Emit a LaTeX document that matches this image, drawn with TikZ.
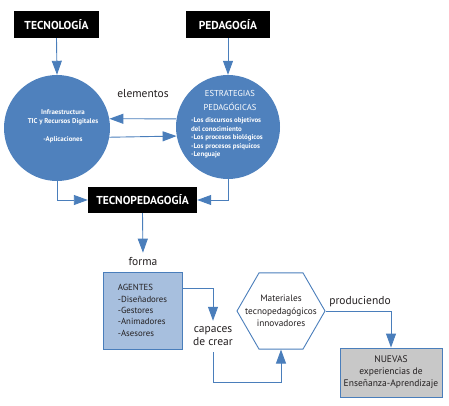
\documentclass[tikz,border=0pt]{standalone}
\usepackage{fontspec}
\setmainfont{PT Sans}
\usetikzlibrary{arrows.meta,shapes.geometric,calc}
\definecolor{cblue}{RGB}{79,129,189}
\definecolor{lblue}{RGB}{74,126,187}
\definecolor{agfill}{RGB}{167,191,222}
\definecolor{nvfill}{RGB}{200,200,200}
\definecolor{txt}{RGB}{35,31,32}
\begin{document}
\begin{tikzpicture}[x=1pt,y=-1pt,
  arr/.style={draw=lblue, line width=0.9pt, -{Triangle[width=10pt,length=14pt,fill=lblue]}},
  blk/.style={fill=black, text=white, font=\fontsize{11.5}{13}\selectfont\bfseries, minimum height=27pt, inner sep=0pt},
  bigc/.style={circle, fill=cblue, inner sep=0pt},
  ctext/.style={text=white, inner sep=0pt, font=\fontsize{6.9}{9}\selectfont\bfseries},
  lbl/.style={text=txt, inner sep=1pt, font=\fontsize{11.5}{13}\selectfont},
  box/.style={draw=lblue, line width=0.9pt, text=txt, inner sep=0pt}
]
\useasboundingbox (0,0) rectangle (449,406);

\node[blk, minimum width=85pt] (tec) at (56.5,24.5) {TECNOLOGÍA};
\node[blk, minimum width=84pt] (ped) at (228,24.5) {PEDAGOGÍA};

\node[bigc, minimum size=106pt] (c1) at (57,128) {};
\node[bigc, minimum size=104pt] (c2) at (228,127) {};

\node[ctext, align=center] (c1t) at (63,126) {Infraestructura\\TIC y Recursos Digitales\\[9pt]-Aplicaciones};
\node[text=white, inner sep=0pt, align=center, font=\fontsize{8.6}{14}\selectfont] (c2h) at (230,100) {ESTRATEGIAS\\PEDAGÓGICAS};
\node[ctext, align=left, anchor=west, font=\fontsize{6.9}{8.5}\selectfont\bfseries] (c2l) at (191,138) {-Los discursos objetivos\\del conocimiento\\-Los procesos biológicos\\-Los procesos psíquicos\\-Lenguaje};

\draw[arr] (tec.south) -- (c1.north);
\draw[arr] (ped.south) -- (c2.north);
\draw[arr] (c2.171) -- (c1.10);
\draw[arr] (c1.350) -- (c2.190);
\node[lbl] (elem) at (143,94) {elementos};

\node[blk, minimum width=109pt, minimum height=26pt] (tp) at (142.5,200) {TECNOPEDAGOGÍA};
\draw[arr] (c1.south) |- (tp.west);
\draw[arr] (c2.south) |- (tp.east);

\node[lbl] (forma) at (143,262) {forma};
\draw[arr, shorten >=4pt] (tp.south) -- (forma.north);

\node[box, fill=agfill, minimum width=79pt, minimum height=77pt, align=left, font=\fontsize{8.8}{11.3}\selectfont] (ag) at (142.5,310.5) {AGENTES\\-Diseñadores\\-Gestores\\-Animadores\\-Asesores};

\node[lbl, align=center, inner ysep=6pt] (cap) at (213,336.5) {capaces\\de crear};
\draw[arr] ([yshift=-17pt]ag.north east) -| (cap.north);

\node[box, fill=white, regular polygon, regular polygon sides=6, minimum size=88pt] (hex) at (281,311) {};
\node[text=txt, inner sep=0pt, align=center, font=\fontsize{9.3}{12.5}\selectfont] (hext) at (hex.center) {Materiales\\tecnopedagógicos\\innovadores};
\draw[arr] (cap.south) -- ++(0,30) -| (hex.south);

\node[box, fill=nvfill, minimum width=102pt, minimum height=49pt, align=center, font=\fontsize{9.5}{12}\selectfont] (nv) at (391,372.5) {NUEVAS\\experiencias de\\Enseñanza-Aprendizaje};
\draw[arr] (hex.east) -| (nv.north);
\node[lbl] (prod) at (360,302) {produciendo};
\end{tikzpicture}
\end{document}
